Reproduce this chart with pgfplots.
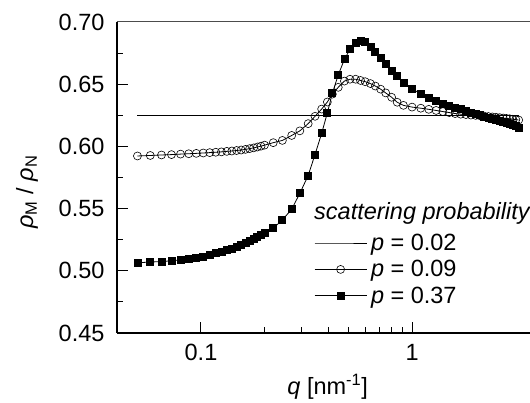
\documentclass[border=0pt]{standalone}
\usepackage{pgfplots}
\pgfplotsset{compat=1.18}
\usepackage{fontspec}
\setmainfont{Liberation Sans}

% p = 0.37 (filled squares)
\pgfplotstableread{
q v
0.05 0.5065
0.0575 0.5070
0.065 0.5075
0.0725 0.5080
0.08 0.5088
0.0875 0.5095
0.095 0.5105
0.1025 0.5115
0.11 0.5127
0.1175 0.5140
0.125 0.5153
0.1325 0.5167
0.14 0.5180
0.1475 0.5195
0.155 0.5210
0.1625 0.5225
0.17 0.5240
0.1775 0.5255
0.185 0.5270
0.1925 0.5288
0.2 0.5305
0.22 0.5342
0.243 0.5409
0.269 0.5495
0.294 0.5623
0.322 0.5766
0.347 0.5935
0.373 0.6105
0.397 0.6270
0.419 0.6427
0.447 0.6574
0.478 0.6700
0.508 0.6780
0.54 0.6834
0.57 0.6848
0.60 0.6840
0.635 0.6800
0.67 0.6758
0.71 0.6710
0.75 0.6665
0.80 0.6610
0.85 0.6565
0.91 0.6510
1.0 0.6465
1.1 0.6420
1.2 0.6386
1.3 0.6365
1.4 0.6345
1.5 0.6327
1.6 0.6311
1.7 0.6298
1.8 0.6287
1.9 0.6272
2.0 0.6261
2.1 0.6250
2.2 0.6240
2.3 0.6230
2.4 0.6220
2.5 0.6210
2.6 0.6202
2.7 0.6194
2.8 0.6186
2.9 0.6177
3.0 0.6170
3.1 0.6162
3.2 0.6152
}\filled

% p = 0.09 (open circles)
\pgfplotstableread{
q v
0.05 0.5923
0.0575 0.5927
0.065 0.5931
0.0725 0.5934
0.08 0.5938
0.0875 0.5941
0.095 0.5944
0.1025 0.5947
0.11 0.5950
0.1175 0.5953
0.125 0.5956
0.1325 0.5960
0.14 0.5963
0.1475 0.5967
0.155 0.5971
0.1625 0.5976
0.17 0.5982
0.1775 0.5988
0.185 0.5995
0.1925 0.6002
0.2 0.6010
0.22 0.6030
0.243 0.6048
0.269 0.6088
0.294 0.6125
0.322 0.6183
0.347 0.6242
0.373 0.6300
0.397 0.6357
0.419 0.6420
0.447 0.6475
0.478 0.6525
0.508 0.6540
0.54 0.6540
0.57 0.6530
0.60 0.6520
0.635 0.6505
0.67 0.6485
0.71 0.6460
0.75 0.6430
0.80 0.6395
0.85 0.6355
0.91 0.6330
1.0 0.6316
1.1 0.6307
1.2 0.6298
1.3 0.6289
1.4 0.6280
1.5 0.6272
1.6 0.6264
1.7 0.6259
1.8 0.6256
1.9 0.6252
2.0 0.6249
2.1 0.6246
2.2 0.6243
2.3 0.6240
2.4 0.6237
2.5 0.6234
2.6 0.6231
2.7 0.6228
2.8 0.6225
2.9 0.6222
3.0 0.6218
3.1 0.6215
3.2 0.6212
}\opencirc

\begin{document}
\begin{tikzpicture}[font=\fontsize{23.5}{28}\selectfont]
\begin{axis}[
    scale only axis,
    width=413pt, height=311pt,
    xmode=log,
    xmin=0.04, xmax=3.62,
    ymin=0.45, ymax=0.70,
    axis x line*=bottom,
    axis y line*=left,
    axis line style={line width=1.2pt},
    tick align=inside,
    tick style={line width=1pt, black},
    major tick length=11pt,
    minor tick length=6pt,
    xtick={0.1,1},
    xticklabels={0.1,1},
    ytick={0.45,0.50,...,0.70},
    minor y tick num=1,
    yticklabel style={xshift=-9pt, /pgf/number format/.cd, fixed, fixed zerofill, precision=2},
    xticklabel style={yshift=-8pt},
    /pgf/number format/assume math mode=true,
    xlabel={\textit{q} [nm\textsuperscript{-1}]},
    ylabel={\textit{ρ}\textsubscript{M} / \textit{ρ}\textsubscript{N}},
    xlabel style={at={(axis description cs:0.51,-0.172)}, anchor=center},
    ylabel style={at={(axis description cs:-0.218,0.453)}, anchor=center},
    legend style={at={(rel axis cs:0.477,0.322)}, anchor=north west, draw=none, fill=none,
        inner sep=0pt, row sep=6.5pt, column sep=3pt, nodes={inner sep=1pt}},
    legend cell align=left,
    legend image code/.code={\draw[mark repeat=2,mark phase=2,#1] plot coordinates {(0pt,0pt) (26pt,0pt) (52pt,0pt)};},
]
\addplot[black, line width=1.5pt, no marks, forget plot] coordinates {(0.05,0.625) (3.2,0.625)};
\addlegendimage{black, line width=0.8pt, no marks}
\addlegendentry{\textit{p} = 0.02}
\addplot[black, line width=0.8pt, mark=o, mark size=4pt, mark options={fill=white, line width=0.6pt}] table {\opencirc};
\addlegendentry{\textit{p} = 0.09}
\addplot[black, line width=0.8pt, mark=square*, mark size=3.5pt] table {\filled};
\addlegendentry{\textit{p} = 0.37}
\draw[black!70, line width=1pt] (rel axis cs:0,1) -- (rel axis cs:1,1);
\node[anchor=west, inner sep=0pt] at (rel axis cs:0.477,0.386) {\textit{scattering probability}};
\end{axis}
\pgfresetboundingbox
\path (current axis.south west) ++(-117pt,-70pt) rectangle ([yshift=22pt]current axis.north east);
\end{tikzpicture}
\end{document}
